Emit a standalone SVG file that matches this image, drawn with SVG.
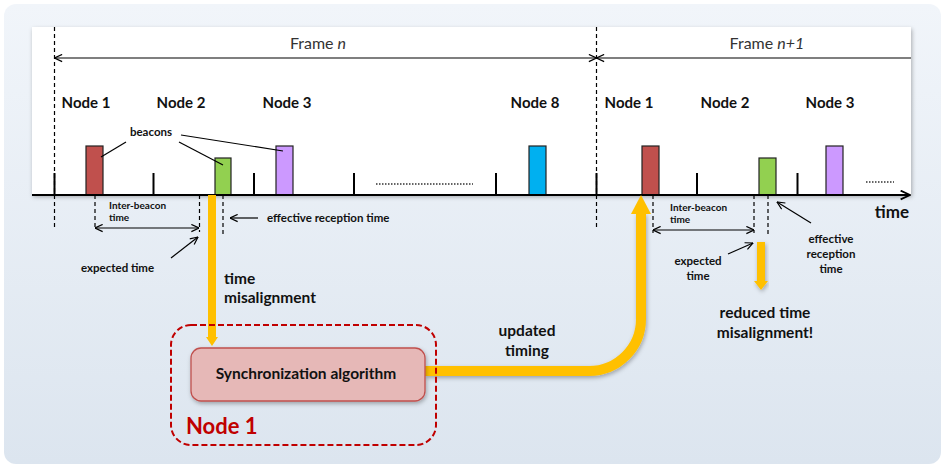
<svg xmlns="http://www.w3.org/2000/svg" width="945" height="468" viewBox="0 0 945 468">
<defs>
<linearGradient id="bg" x1="0" y1="0" x2="0" y2="1">
<stop offset="0" stop-color="#f1f5fa"/>
<stop offset="1" stop-color="#dce5ef"/>
</linearGradient>
<filter id="sh" x="-5%" y="-10%" width="110%" height="130%">
<feDropShadow dx="1" dy="2" stdDeviation="2" flood-color="#000" flood-opacity="0.3"/>
</filter>
<marker id="open" viewBox="0 0 10 10" refX="9.5" refY="5" markerWidth="9" markerHeight="9" markerUnits="userSpaceOnUse" orient="auto-start-reverse">
<path d="M1,1 L9.5,5 L1,9" fill="none" stroke="#000" stroke-width="1.3"/>
</marker>
<marker id="open2" viewBox="0 0 10 10" refX="9.5" refY="5" markerWidth="11" markerHeight="11" markerUnits="userSpaceOnUse" orient="auto-start-reverse">
<path d="M1,1 L9.5,5 L1,9" fill="none" stroke="#000" stroke-width="1.6"/>
</marker>
<style>
text{font-family:Lato,"Liberation Sans",sans-serif;fill:#111}
.node{font-size:15px;font-weight:bold}
.lbl{font-size:15.5px;font-weight:bold}
.sm{font-size:11.5px;font-weight:bold}
.xs{font-size:10px;font-weight:bold}
.frame{font-size:16px;fill:#333}
.tick{stroke:#000;stroke-width:2}
.dash{stroke:#000;stroke-width:1.2;stroke-dasharray:4 3;fill:none}
.thin{stroke:#000;stroke-width:1.2;fill:none}
.beacon{stroke:#222;stroke-width:1.2}
.orange{fill:#ffc000}
</style>
</defs>
<rect x="4" y="4" width="937" height="460" rx="12" fill="url(#bg)"/>
<g id="panel">
<rect x="32" y="27" width="879" height="168" fill="#fff" filter="url(#sh)"/>
</g>
<g id="frames">
<line class="dash" x1="54.5" y1="27" x2="54.5" y2="229"/>
<line class="dash" x1="596.5" y1="27" x2="596.5" y2="229"/>
<line class="thin" x1="54.5" y1="58" x2="596.5" y2="58" marker-start="url(#open)" marker-end="url(#open)"/>
<line class="thin" x1="596.5" y1="58" x2="911" y2="58" marker-start="url(#open)"/>
<text class="frame" x="318" y="49" text-anchor="middle">Frame <tspan font-style="italic">n</tspan></text>
<text class="frame" x="767" y="49" text-anchor="middle">Frame <tspan font-style="italic">n+1</tspan></text>
</g>
<g id="node-labels">
<text class="node" x="86" y="108" text-anchor="middle">Node 1</text>
<text class="node" x="181" y="108" text-anchor="middle">Node 2</text>
<text class="node" x="287" y="108" text-anchor="middle">Node 3</text>
<text class="node" x="535" y="108" text-anchor="middle">Node 8</text>
<text class="node" x="629" y="108" text-anchor="middle">Node 1</text>
<text class="node" x="725" y="108" text-anchor="middle">Node 2</text>
<text class="node" x="830" y="108" text-anchor="middle">Node 3</text>
</g>
<g id="ticks">
<line class="tick" x1="54.5" y1="173" x2="54.5" y2="195"/>
<line class="tick" x1="153.5" y1="173" x2="153.5" y2="195"/>
<line class="tick" x1="254" y1="173" x2="254" y2="195"/>
<line class="tick" x1="354" y1="173" x2="354" y2="195"/>
<line class="tick" x1="496" y1="173" x2="496" y2="195"/>
<line class="tick" x1="596.5" y1="173" x2="596.5" y2="195"/>
<line class="tick" x1="697" y1="173" x2="697" y2="195"/>
<line class="tick" x1="797.5" y1="173" x2="797.5" y2="195"/>
<line x1="376" y1="184" x2="473" y2="184" stroke="#333" stroke-width="1.5" stroke-dasharray="1.5 1.5"/>
<line x1="866" y1="182" x2="894" y2="182" stroke="#333" stroke-width="1.5" stroke-dasharray="1.5 1.5"/>
</g>
<g id="beacons">
<rect class="beacon" x="86" y="146" width="17" height="49" fill="#c0504d"/>
<rect class="beacon" x="215" y="158" width="16" height="37" fill="#92d050"/>
<rect class="beacon" x="276" y="146" width="17" height="49" fill="#cc99ff"/>
<rect class="beacon" x="529" y="146" width="17" height="49" fill="#00b0f0"/>
<rect class="beacon" x="642" y="146" width="17" height="49" fill="#c0504d"/>
<rect class="beacon" x="759" y="158" width="17" height="37" fill="#92d050"/>
<rect class="beacon" x="826" y="146" width="17" height="49" fill="#cc99ff"/>
<text class="sm" x="151" y="136" text-anchor="middle">beacons</text>
<line class="thin" x1="126" y1="142" x2="101" y2="157"/>
<line class="thin" x1="179" y1="142" x2="223" y2="165"/>
<line class="thin" x1="181" y1="135" x2="283" y2="151"/>
</g>
<g id="axis">
<line x1="32" y1="195" x2="910" y2="195" stroke="#000" stroke-width="2" marker-end="url(#open2)"/>
<text x="892" y="218" text-anchor="middle" style="font-size:17px;font-weight:bold">time</text>
</g>
<g id="connectors">
<line class="dash" x1="95" y1="195" x2="95" y2="229"/>
<line class="dash" x1="199.5" y1="195" x2="199.5" y2="232"/>
<line class="dash" x1="223" y1="195" x2="223" y2="234"/>
<line class="thin" x1="95" y1="228" x2="199" y2="228" marker-start="url(#open)" marker-end="url(#open)"/>
<line class="thin" x1="258" y1="218" x2="230" y2="218" marker-end="url(#open)"/>
<line class="thin" x1="171" y1="258" x2="198" y2="237" marker-end="url(#open)"/>
<line class="dash" x1="653" y1="195" x2="653" y2="233"/>
<line class="dash" x1="754" y1="195" x2="754" y2="233"/>
<line class="dash" x1="768" y1="195" x2="768" y2="234"/>
<line class="thin" x1="653" y1="230" x2="754" y2="230" marker-start="url(#open)" marker-end="url(#open)"/>
<line class="thin" x1="811" y1="223" x2="777" y2="202" marker-end="url(#open)"/>
<line class="thin" x1="728" y1="254" x2="753" y2="243" marker-end="url(#open)"/>
<path class="orange" d="M208,195 H216 V337 H218 L212,346 L206,337 H208 Z"/>
<path d="M425,371 H589 A52,52 0 0 0 641,319 V213" fill="none" stroke="#ffc000" stroke-width="10" filter="url(#sh)"/>
<path class="orange" d="M631,214 L641,195 L651,214 Z"/>
<path class="orange" d="M757,242 H765 V281 H768 L761,290 L754,281 H757 Z" filter="url(#sh)"/>
</g>
<g id="texts">
<text class="xs" x="109" y="209">Inter-beacon</text>
<text class="xs" x="109" y="221">time</text>
<text class="sm" x="267" y="222">effective reception time</text>
<text class="sm" x="81" y="272">expected time</text>
<text class="lbl" x="224" y="284">time</text>
<text class="lbl" x="224" y="303">misalignment</text>
<text class="xs" x="670" y="211">Inter-beacon</text>
<text class="xs" x="670" y="223">time</text>
<text class="sm" x="831" y="243" text-anchor="middle">effective</text>
<text class="sm" x="831" y="258" text-anchor="middle">reception</text>
<text class="sm" x="831" y="273" text-anchor="middle">time</text>
<text class="sm" x="698" y="265" text-anchor="middle">expected</text>
<text class="sm" x="698" y="280" text-anchor="middle">time</text>
<text class="lbl" x="765" y="318" text-anchor="middle">reduced time</text>
<text class="lbl" x="765" y="338" text-anchor="middle">misalignment!</text>
<text class="lbl" x="527" y="336" text-anchor="middle">updated</text>
<text class="lbl" x="527" y="356" text-anchor="middle">timing</text>
</g>
<g id="node1">
<rect x="171" y="325" width="265" height="120" rx="20" fill="none" stroke="#c00000" stroke-width="2" stroke-dasharray="6 3"/>
<text x="186" y="434" style="font-size:22px;fill:#c00000;font-weight:bold">Node 1</text>
</g>
<g id="sync">
<rect x="191" y="348" width="234" height="53" rx="10" fill="#e6b8b7" stroke="#c0504d" stroke-width="1.3" filter="url(#sh)"/>
<text class="lbl" x="306" y="379" text-anchor="middle">Synchronization algorithm</text>
</g>
</svg>
